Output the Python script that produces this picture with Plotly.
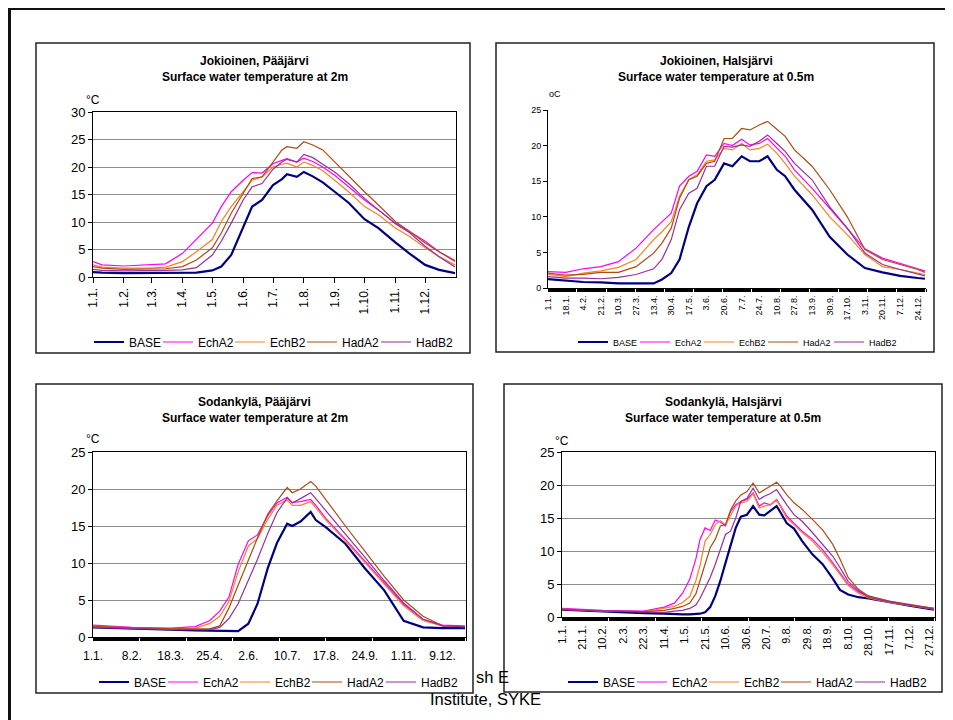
import plotly.graph_objects as go

W, H = 953, 720
# the page body adds an 8px offset; positions below are reference-picture pixels
OX, OY = 8, 8
FONT = "Liberation Sans, Arial, sans-serif"

SERIES = ["BASE", "EchA2", "EchB2", "HadA2", "HadB2"]
COLORS = {"BASE": "#000080", "EchA2": "#FF00FF", "EchB2": "#FF7F1E",
          "HadA2": "#B04A14", "HadB2": "#9A2E9A"}
WIDTHS = {"BASE": 2.2, "EchA2": 1.2, "EchB2": 1.2, "HadA2": 1.2, "HadB2": 1.2}

# ---------------- Panel 1: Jokioinen, Pääjärvi (2 m) ----------------
p1_days = [0, 9, 31, 59, 73, 90, 104, 120, 129, 139, 151, 160, 170, 181, 190, 195,
           205, 212, 221, 231, 243, 257, 273, 287, 304, 318, 334, 348, 364]
p1_base = [0.9, 0.8, 0.7, 0.7, 0.7, 0.7, 0.8, 1.2, 1.9, 4.0, 9.0, 12.8, 14.0, 16.7, 17.8, 18.7,
           18.2, 19.1, 18.3, 17.2, 15.5, 13.5, 10.5, 8.9, 6.3, 4.3, 2.2, 1.3, 0.7]
p1_echa2 = [2.8, 2.2, 2.0, 2.2, 2.4, 4.3, 6.8, 9.8, 12.8, 15.5, 17.6, 19.0, 18.9, 20.6, 21.2, 21.5,
            20.9, 21.6, 21.0, 20.0, 18.5, 16.4, 14.0, 12.2, 9.8, 8.3, 6.5, 4.6, 3.0]
p1_echb2 = [2.2, 1.8, 1.6, 1.6, 1.8, 2.8, 4.6, 6.8, 10.1, 12.8, 15.5, 17.6, 18.2, 20.0, 20.5, 20.7,
            20.0, 20.9, 20.3, 19.3, 17.6, 15.5, 12.8, 11.3, 8.9, 7.4, 5.3, 3.7, 2.2]
p1_hada2 = [1.9, 1.6, 1.4, 1.4, 1.5, 1.9, 3.1, 5.3, 8.0, 11.6, 15.2, 17.9, 18.2, 20.9, 23.1, 23.7,
            23.4, 24.6, 24.0, 23.1, 20.9, 18.5, 15.5, 13.1, 10.1, 8.3, 6.2, 4.6, 2.8]
p1_hadb2 = [1.4, 1.2, 1.1, 1.1, 1.2, 1.3, 1.7, 4.0, 6.5, 9.8, 14.0, 16.4, 17.0, 19.6, 20.9, 21.4,
            20.9, 22.3, 21.7, 20.5, 19.1, 17.0, 14.3, 12.2, 9.7, 8.1, 5.6, 3.7, 1.8]
p1_tickvals = [0, 31, 59, 90, 120, 151, 181, 212, 243, 273, 304, 334]
p1_ticktext = ["1.1.", "1.2.", "1.3.", "1.4.", "1.5.", "1.6.", "1.7.", "1.8.",
               "1.9.", "1.10.", "1.11.", "1.12."]

# ---------------- Panel 2: Jokioinen, Halsjärvi (0.5 m) ----------------
p2_days = [0, 17, 34, 51, 68, 85, 102, 110, 119, 127, 136, 144, 153, 161, 170, 178,
           187, 195, 204, 212, 221, 229, 238, 255, 272, 289, 306, 323, 340, 357, 364]
p2_base = [1.26, 1.07, 0.84, 0.8, 0.65, 0.65, 0.65, 1.2, 2.1, 4.0, 8.6, 11.9, 14.3, 15.2, 17.5, 17.1,
           18.5, 17.8, 17.8, 18.5, 16.6, 15.7, 13.8, 11.0, 7.2, 4.7, 2.8, 2.2, 1.7, 1.4, 1.3]
p2_echa2 = [2.3, 2.2, 2.7, 3.0, 3.7, 5.6, 8.2, 9.3, 10.5, 14.3, 15.7, 16.4, 18.7, 18.5, 20.3, 20.0,
            20.9, 20.1, 20.3, 21.0, 19.6, 18.5, 16.6, 14.0, 11.2, 8.4, 5.5, 4.2, 3.5, 2.7, 2.4]
p2_echb2 = [1.9, 1.6, 2.1, 2.4, 2.9, 4.0, 6.8, 7.9, 9.3, 12.9, 15.2, 15.9, 17.8, 18.0, 19.6, 19.4,
            20.3, 19.4, 19.6, 20.2, 18.9, 17.5, 15.7, 13.1, 10.0, 7.5, 4.7, 3.0, 2.6, 2.1, 1.9]
p2_hada2 = [2.1, 1.8, 1.9, 2.2, 2.2, 3.0, 4.9, 6.3, 8.4, 12.6, 15.2, 15.7, 17.5, 17.8, 21.0, 21.0,
            22.4, 22.2, 22.9, 23.4, 22.3, 21.3, 19.4, 17.1, 13.8, 10.0, 5.4, 4.0, 3.3, 2.6, 2.2]
p2_hadb2 = [1.6, 1.4, 1.4, 1.3, 1.5, 1.9, 2.7, 4.0, 6.8, 11.0, 13.3, 14.0, 17.1, 17.1, 19.9, 19.8,
            20.1, 19.9, 20.6, 21.5, 20.3, 19.2, 17.5, 15.2, 11.4, 8.4, 4.9, 3.3, 2.6, 1.9, 1.7]
p2_tickvals = [0, 17, 34, 51, 68, 85, 102, 119, 136, 153, 170, 187, 204, 221, 238, 255,
               272, 289, 306, 323, 340, 357]
p2_ticktext = ["1.1.", "18.1.", "4.2.", "21.2.", "10.3.", "27.3.", "13.4.", "30.4.", "17.5.",
               "3.6.", "20.6.", "7.7.", "24.7.", "10.8.", "27.8.", "13.9.", "30.9.", "17.10.",
               "3.11.", "20.11.", "7.12.", "24.12."]

# ---------------- Panel 3: Sodankylä, Pääjärvi (2 m) ----------------
p3_days = [0, 38, 76, 100, 114, 124, 133, 142, 152, 161, 171, 180, 190, 195, 203, 213,
           218, 228, 247, 266, 285, 304, 323, 342, 364]
p3_base = [1.3, 1.1, 1.0, 0.9, 0.9, 0.8, 0.8, 0.8, 1.8, 4.5, 9.3, 12.7, 15.3, 15.0, 15.6, 16.9,
           15.8, 14.8, 12.6, 9.3, 6.3, 2.2, 1.3, 1.2, 1.2]
p3_echa2 = [1.6, 1.3, 1.2, 1.4, 2.2, 3.5, 5.4, 9.8, 13.0, 13.8, 16.4, 18.1, 18.9, 18.2, 18.3, 18.6,
            17.8, 16.0, 13.2, 10.3, 7.3, 4.4, 2.4, 1.6, 1.5]
p3_echb2 = [1.4, 1.2, 1.1, 1.2, 1.8, 2.8, 4.8, 8.8, 12.3, 13.3, 15.9, 17.8, 18.5, 17.8, 17.8, 18.3,
            17.5, 15.8, 13.0, 10.1, 7.1, 4.2, 2.2, 1.5, 1.4]
p3_hada2 = [1.4, 1.2, 1.1, 1.1, 1.1, 1.5, 3.9, 7.0, 10.5, 13.4, 16.6, 18.4, 20.2, 19.5, 20.0, 21.0,
            20.4, 18.5, 15.0, 11.6, 8.2, 5.0, 2.8, 1.5, 1.4]
p3_hadb2 = [1.3, 1.1, 1.0, 1.0, 1.0, 1.3, 2.5, 4.5, 7.7, 10.5, 14.0, 16.8, 18.8, 18.1, 18.7, 19.5,
            18.7, 17.0, 13.9, 10.8, 7.6, 4.6, 2.4, 1.5, 1.4]
p3_tickvals = [0, 38, 76, 114, 152, 190, 228, 266, 304, 342]
p3_ticktext = ["1.1.", "8.2.", "18.3.", "25.4.", "2.6.", "10.7.", "17.8.", "24.9.", "1.11.", "9.12."]

# ---------------- Panel 4: Sodankylä, Halsjärvi (0.5 m) ----------------
p4_days = [0, 40, 80, 100, 110, 118, 125, 131, 135, 140, 145, 150, 155, 160, 165, 170, 175,
           181, 187, 193, 198, 204, 210, 214, 220, 227, 235, 245, 255, 265, 272, 280, 290,
           300, 320, 340, 364]
p4_base = [1.1, 0.8, 0.6, 0.5, 0.4, 0.4, 0.4, 0.4, 0.5, 0.7, 1.5, 3.2, 5.5, 8.2, 10.8, 13.5, 15.2,
           15.5, 16.8, 15.5, 15.4, 16.1, 16.8, 15.8, 14.2, 13.4, 11.5, 9.5, 8.0, 5.8, 4.1, 3.4, 3.0,
           2.8, 2.2, 1.7, 1.1]
p4_echa2 = [1.3, 1.0, 0.9, 1.5, 2.1, 3.6, 5.7, 8.8, 11.7, 13.5, 13.1, 14.7, 14.4, 13.8, 16.0, 17.0,
            17.5, 17.8, 18.8, 16.8, 17.3, 17.0, 17.8, 16.8, 15.3, 14.2, 13.0, 11.8, 10.2, 8.2, 6.7,
            5.0, 3.8, 3.1, 2.4, 1.8, 1.3]
p4_echb2 = [1.2, 0.9, 0.8, 1.3, 1.6, 2.2, 3.1, 5.5, 7.8, 11.5, 12.5, 14.0, 14.6, 14.0, 15.5, 16.8,
            17.3, 17.5, 18.7, 16.5, 16.8, 17.0, 17.7, 16.6, 15.0, 14.0, 12.8, 11.5, 9.8, 7.9, 6.4,
            4.8, 3.6, 2.9, 2.2, 1.7, 1.2]
p4_hada2 = [1.2, 0.9, 0.8, 1.0, 1.3, 1.6, 2.1, 3.5, 5.5, 8.0, 10.5, 11.8, 13.8, 14.0, 16.2, 17.6,
            18.5, 19.0, 20.3, 18.8, 19.3, 19.8, 20.4, 19.8, 18.5, 17.3, 16.3, 14.8, 13.2, 11.0, 8.8,
            6.0, 4.2, 3.2, 2.4, 1.9, 1.3]
p4_hadb2 = [1.1, 0.9, 0.7, 0.7, 0.9, 1.0, 1.3, 1.8, 2.8, 4.3, 6.0, 8.0, 10.2, 12.5, 13.0, 15.0,
            17.5, 18.0, 19.5, 17.8, 18.3, 18.7, 19.3, 18.3, 17.0, 15.5, 14.5, 12.8, 11.0, 9.2, 7.5,
            5.4, 4.0, 3.0, 2.3, 1.8, 1.2]
p4_tickvals = [0, 20, 40, 60, 80, 100, 120, 140, 160, 180, 200, 220, 240, 260, 280, 300, 320, 340, 360]
p4_ticktext = ["1.1.", "21.1.", "10.2.", "2.3.", "22.3.", "11.4.", "1.5.", "21.5.", "10.6.",
               "30.6.", "20.7.", "9.8.", "29.8.", "18.9.", "8.10.", "28.10.", "17.11.", "7.12.", "27.12."]

titles = [("Jokioinen, Pääjärvi", "Surface water temperature at 2m"),
          ("Jokioinen, Halsjärvi", "Surface water temperature at 0.5m"),
          ("Sodankylä, Pääjärvi", "Surface water temperature at 2m"),
          ("Sodankylä, Halsjärvi", "Surface water temperature at 0.5m")]
units = ["°C", "oC", "°C", "°C"]
footer = ["sh E", "Institute, SYKE"]
ALL_DAYS = list(range(0, 366))

# legend entry widths (px) per series, for 12px and 9px legend fonts
ENTRY_W12 = {"BASE": 24, "EchA2": 27, "EchB2": 27, "HadA2": 29, "HadB2": 38}
ENTRY_W9 = {"BASE": 17, "EchA2": 19, "EchB2": 19, "HadA2": 21, "HadB2": 29}


def fx(px):
    return (px - OX) / W


def fy(py):
    return 1 - (py - OY) / H


def daily_ticks(vals, texts):
    """Tick at every day (dense category ticks), labelled only at the given days."""
    lab = dict(zip(vals, texts))
    return ALL_DAYS, [lab.get(d, "") for d in ALL_DAYS]


panels = [
    dict(days=p1_days, data=[p1_base, p1_echa2, p1_echb2, p1_hada2, p1_hadb2], legend="legend", ew=ENTRY_W12),
    dict(days=p2_days, data=[p2_base, p2_echa2, p2_echb2, p2_hada2, p2_hadb2], legend="legend2", ew=ENTRY_W9),
    dict(days=p3_days, data=[p3_base, p3_echa2, p3_echb2, p3_hada2, p3_hadb2], legend="legend3", ew=ENTRY_W12),
    dict(days=p4_days, data=[p4_base, p4_echa2, p4_echb2, p4_hada2, p4_hadb2], legend="legend4", ew=ENTRY_W12),
]

fig = go.Figure()
for i, p in enumerate(panels):
    sfx = "" if i == 0 else str(i + 1)
    for name, vals in zip(SERIES, p["data"]):
        fig.add_trace(go.Scatter(
            x=p["days"], y=vals, mode="lines", name=name,
            line=dict(color=COLORS[name], width=WIDTHS[name]),
            xaxis="x" + sfx, yaxis="y" + sfx, legend=p["legend"],
            legendwidth=p["ew"][name], hoverinfo="skip"))

panel_boxes = [(36, 470, 43, 353), (496, 934, 43, 352), (36, 473, 384, 693), (504, 942, 384, 692)]

common_x = dict(range=[0, 365], showgrid=False, zeroline=False, showline=True,
                linecolor="#000000", linewidth=1, ticks="outside", tickcolor="#000000",
                tickmode="array", fixedrange=True)
common_y = dict(zeroline=False, showline=True, linecolor="#000000", linewidth=1,
                ticks="outside", tickcolor="#000000", ticklen=4, fixedrange=True)

layout = dict(
    width=W, height=H, margin=dict(l=0, r=0, t=0, b=0, pad=0, autoexpand=False),
    paper_bgcolor="white", plot_bgcolor="white",
    font=dict(family=FONT, color="#000000"),
)

tv2, tt2 = daily_ticks(p2_tickvals, p2_ticktext)
tv3, tt3 = daily_ticks(p3_tickvals, p3_ticktext)
tv4, tt4 = daily_ticks(p4_tickvals, p4_ticktext)

# Panel 1
layout["xaxis"] = dict(common_x, domain=[fx(93), fx(456)], anchor="y", tickvals=p1_tickvals,
                       ticktext=p1_ticktext, tickangle=-90, ticklen=5, mirror=True,
                       tickfont=dict(size=12))
layout["yaxis"] = dict(common_y, domain=[fy(277), fy(112)], anchor="x", range=[0, 30],
                       tickvals=[0, 5, 10, 15, 20, 25, 30], showgrid=True, gridcolor="#8c8c8c",
                       mirror=True, tickfont=dict(size=13))
# Panel 2
layout["xaxis2"] = dict(common_x, domain=[fx(548), fx(926)], anchor="y2", tickvals=tv2,
                        ticktext=tt2, tickangle=-90, ticklen=3, tickfont=dict(size=9))
layout["yaxis2"] = dict(common_y, domain=[fy(288), fy(110)], anchor="x2", range=[0, 25],
                        tickvals=[0, 5, 10, 15, 20, 25], showgrid=False, tickfont=dict(size=9))
# Panel 3
layout["xaxis3"] = dict(common_x, domain=[fx(93), fx(466)], anchor="y3", tickvals=tv3,
                        ticktext=tt3, tickangle=0, ticklen=3, mirror=True,
                        ticklabelstandoff=5, tickfont=dict(size=12))
layout["yaxis3"] = dict(common_y, domain=[fy(637), fy(452)], anchor="x3", range=[0, 25],
                        tickvals=[0, 5, 10, 15, 20, 25], showgrid=True, gridcolor="#8c8c8c",
                        mirror=True, tickfont=dict(size=13))
# Panel 4
layout["xaxis4"] = dict(common_x, domain=[fx(562), fx(935)], anchor="y4", tickvals=tv4,
                        ticktext=tt4, tickangle=-90, ticklen=3, mirror=True,
                        tickfont=dict(size=11))
layout["yaxis4"] = dict(common_y, domain=[fy(617), fy(452)], anchor="x4", range=[0, 25],
                        tickvals=[0, 5, 10, 15, 20, 25], showgrid=True, gridcolor="#8c8c8c",
                        mirror=True, tickfont=dict(size=13))

# (center x, center y, font size)
legend_pos = [(274, 342, 12), (738, 342, 9), (279, 682, 12), (748, 682, 12)]
for i, (lx, ly, fs) in enumerate(legend_pos):
    key = "legend" if i == 0 else "legend%d" % (i + 1)
    layout[key] = dict(orientation="h", x=fx(lx), y=fy(ly), xanchor="center", yanchor="middle",
                       font=dict(size=fs, family=FONT), bgcolor="rgba(0,0,0,0)",
                       itemwidth=30, entrywidthmode="pixels",
                       tracegroupgap=0, itemclick=False, itemdoubleclick=False)

shapes = []
for (l, r, t, b) in panel_boxes:
    shapes.append(dict(type="rect", xref="paper", yref="paper", x0=fx(l), x1=fx(r),
                       y0=fy(b), y1=fy(t), line=dict(color="#222222", width=1.5),
                       fillcolor="white", layer="below"))
# outer frame (top and left edges), as close to the page corner as the figure allows
shapes.append(dict(type="line", xref="paper", yref="paper", x0=0, x1=1, y0=1 - 1 / H, y1=1 - 1 / H,
                   line=dict(color="#111111", width=2)))
shapes.append(dict(type="line", xref="paper", yref="paper", x0=1.5 / W, x1=1.5 / W, y0=0, y1=1,
                   line=dict(color="#111111", width=3)))
layout["shapes"] = shapes

annotations = []
title_cx = [255, 716, 255, 723]
title_y = [(61, 77), (61, 77), (402, 418), (402, 418)]
for (t1, t2), cx, (y1, y2) in zip(titles, title_cx, title_y):
    for txt, yy in ((t1, y1), (t2, y2)):
        annotations.append(dict(text="<b>%s</b>" % txt, x=fx(cx), y=fy(yy), xref="paper",
                                yref="paper", showarrow=False, xanchor="center",
                                yanchor="middle", font=dict(size=12, family=FONT)))
unit_pos = [(93, 100, 12), (555, 94, 9), (93, 439, 12), (562, 441, 12)]
for u, (ux, uy, fs) in zip(units, unit_pos):
    annotations.append(dict(text=u, x=fx(ux), y=fy(uy), xref="paper", yref="paper",
                            showarrow=False, xanchor="center", yanchor="middle",
                            font=dict(size=fs, family=FONT)))
annotations.append(dict(text=footer[0], x=fx(474), y=fy(677), xref="paper", yref="paper",
                        showarrow=False, xanchor="left", yanchor="middle",
                        font=dict(size=16.5, family=FONT)))
annotations.append(dict(text=footer[1], x=fx(485), y=fy(699), xref="paper", yref="paper",
                        showarrow=False, xanchor="center", yanchor="middle",
                        font=dict(size=16.5, family=FONT)))
layout["annotations"] = annotations

fig.update_layout(**layout)
fig.write_html("out.html")
